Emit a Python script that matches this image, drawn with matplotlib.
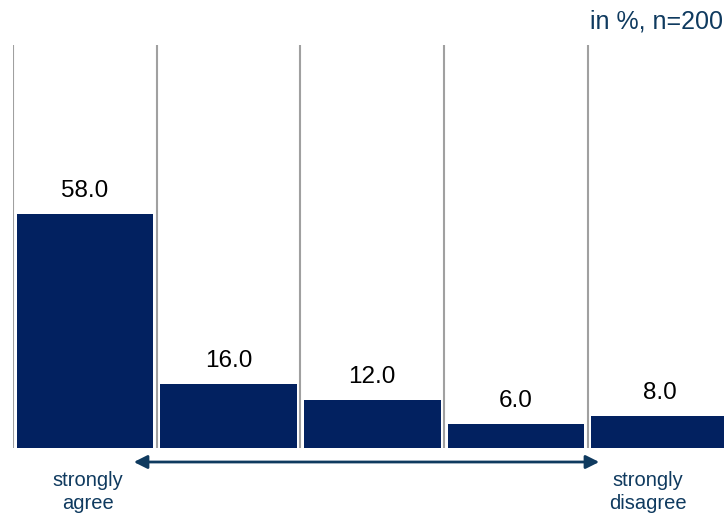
import matplotlib.pyplot as plt

plt.rcParams['font.family'] = ['Liberation Sans', 'DejaVu Sans']

# survey answers, left = strongly agree, right = strongly disagree
categories = ['1', '2', '3', '4', '5']
values = [58.0, 16.0, 12.0, 6.0, 8.0]
note = 'in %, n=200'
left_label = 'strongly\nagree'
right_label = 'strongly\ndisagree'

bar_color = '#022160'
text_blue = '#0f3a5f'

fig = plt.figure(figsize=(7.24, 5.17), dpi=100)
ax = fig.add_axes([13 / 724, 69 / 517, 711 / 724, 403 / 517])

x = list(range(len(categories)))
bars = ax.bar(x, values, width=0.95, color=bar_color, zorder=2)

# grey separators between the answer columns
for i in x:
    ax.axvline(i - 0.5, color='#a0a0a0', lw=1.5, zorder=1)

for b, v in zip(bars, values):
    ax.annotate(f'{v:.1f}', (b.get_x() + b.get_width() / 2, v),
                xytext=(0, 16.5), textcoords='offset points',
                ha='center', va='center', fontsize=17.5, color='black')

ax.set_xlim(-0.5, -0.5 + 711 / 143.7)
ax.set_ylim(0, 100)
ax.axis('off')

fig.text(0.998, 1 - 21 / 517, note, ha='right', va='center', fontsize=18, color=text_blue)

fig.text(88 / 724, 1 - 492 / 517, left_label, ha='center', va='center',
         fontsize=14.5, color=text_blue, linespacing=1.3)
fig.text(648 / 724, 1 - 492 / 517, right_label, ha='center', va='center',
         fontsize=14.5, color=text_blue, linespacing=1.3)
fig.add_artist(plt.matplotlib.patches.FancyArrowPatch(
    (131 / 724, 1 - 462 / 517), (602 / 724, 1 - 462 / 517),
    transform=fig.transFigure, arrowstyle='<|-|>', mutation_scale=20,
    color=text_blue, lw=2))

fig.savefig('out.png', dpi=100)
